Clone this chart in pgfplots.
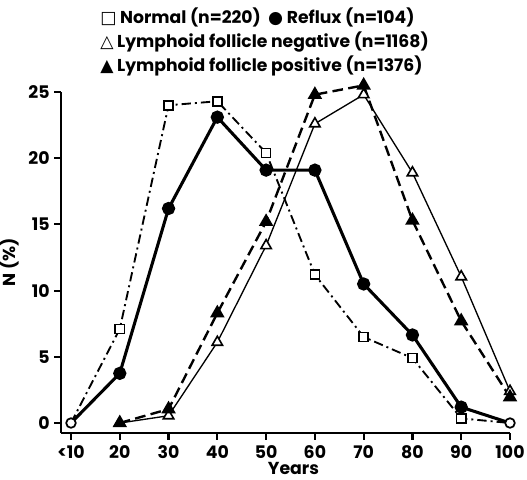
\documentclass[border=0pt]{standalone}
\usepackage{fontspec}
\setmainfont{Poppins}
\newfontfamily\sym{DejaVu Sans}
\usepackage{pgfplots}
\pgfplotsset{compat=1.18}

\begin{document}
\begin{tikzpicture}[font=\bfseries\fontsize{13}{15}\selectfont]
\begin{axis}[
  name=ax, scale only axis,
  width=336.75pt, height=255.75pt,
  xmin=-0.205, xmax=9, ymin=-0.755, ymax=25,
  axis x line=bottom, axis y line=left,
  axis line style={line width=2.2pt, -},
  xtick={0,...,9}, xticklabels={<10,20,30,40,50,60,70,80,90,100},
  ytick={0,5,...,25},
  tick align=outside, major tick length=5pt,
  tick style={line width=1.6pt, black},
  xticklabel style={yshift=-1pt},
  /pgf/number format/assume math mode=true,
  xlabel={Years}, ylabel={N (\%)},
  xlabel style={at={(axis description cs:0.5,0)}, anchor=base, yshift=-31pt, xshift=6pt},
  clip=false,
]
% Normal
\addplot[black, line width=1.4pt, dash pattern=on 7pt off 3pt on 1.5pt off 3pt,
  mark=square*, mark size=3.4pt, mark indices={2,...,9},
  mark options={solid, fill=white, line width=1.2pt}]
  coordinates {(0,0) (1,7.1) (2,24.0) (3,24.3) (4,20.4) (5,11.2) (6,6.5) (7,4.9) (8,0.35) (9,0)};
% Reflux
\addplot[black, line width=2.3pt, mark=*, mark size=3.8pt, mark indices={2,...,9}]
  coordinates {(0,0) (1,3.75) (2,16.2) (3,23.1) (4,19.1) (5,19.1) (6,10.5) (7,6.65) (8,1.2) (9,0)};
% Lymphoid follicle negative
\addplot[black, line width=1pt, mark=triangle*, mark size=4.5pt,
  mark options={fill=white, line width=1.2pt}]
  coordinates {(1,0) (2,0.55) (3,6.1) (4,13.4) (5,22.6) (6,24.8) (7,18.9) (8,11.05) (9,2.4)};
% Lymphoid follicle positive
\addplot[black, line width=1.8pt, dash pattern=on 8pt off 4pt,
  mark=triangle*, mark size=4.5pt, mark options={solid}]
  coordinates {(1,0) (2,1.05) (3,8.3) (4,15.2) (5,24.8) (6,25.5) (7,15.3) (8,7.7) (9,1.95)};
% shared zero points
\addplot[only marks, black, mark=*, mark size=3.6pt,
  mark options={fill=white, line width=1.3pt}]
  coordinates {(0,0) (9,0)};
\end{axis}
\node[anchor=north west, align=left, inner sep=0pt,
  font=\bfseries\fontsize{12.9}{18}\selectfont]
  at ([shift={(29.25pt,319pt)}]ax.south west)
  {{\sym □} Normal (n=220)\ \ {\sym ●} Reflux (n=104)\\
   {\sym △} Lymphoid follicle negative (n=1168)\\
   {\sym ▲} Lymphoid follicle positive (n=1376)};
\pgfresetboundingbox
\path ([shift={(-45.75pt,-34.5pt)}]ax.south west) rectangle ([shift={(349.5pt,324.75pt)}]ax.south west);
\end{tikzpicture}
\end{document}
